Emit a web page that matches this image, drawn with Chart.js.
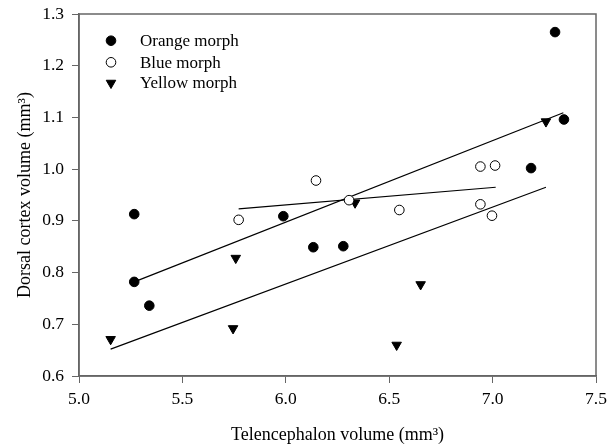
<!DOCTYPE html>
<html><head><meta charset="utf-8">
<script src="https://cdn.jsdelivr.net/npm/chart.js@4"></script>
<style>html,body{margin:0;padding:0;background:#fff}#wrap{width:612px;height:448px}</style>
</head><body><div id="wrap"><canvas id="c"></canvas></div>
<script>
const orangeX = [5.267, 5.267, 5.34, 5.988, 6.133, 6.278, 7.186, 7.302, 7.345];
const orangeY = [0.913, 0.782, 0.736, 0.909, 0.849, 0.851, 1.002, 1.265, 1.096];
const blueX = [5.772, 6.146, 6.306, 6.549, 6.941, 7.012, 6.941, 6.997];
const blueY = [0.902, 0.978, 0.940, 0.921, 1.005, 1.007, 0.932, 0.910];
const yellowX = [5.153, 5.758, 5.745, 6.335, 6.652, 6.536, 7.258];
const yellowY = [0.671, 0.828, 0.692, 0.935, 0.777, 0.660, 1.092];
const orangeFitX = [5.267, 7.342], orangeFitY = [0.782, 1.109];
const blueFitX = [5.772, 7.015], blueFitY = [0.923, 0.965];
const yellowFitX = [5.153, 7.258], yellowFitY = [0.652, 0.965];
const legendLabels = ['Orange morph', 'Blue morph', 'Yellow morph'];
const xTitle = 'Telencephalon volume (mm³)';
const yTitle = 'Dorsal cortex volume (mm³)';

const pts = (xs, ys) => xs.map((x, i) => ({x, y: ys[i]}));
const FONT = 'Liberation Serif, Times New Roman, serif';

const markerStyles = [
  {pointStyle: 'circle', backgroundColor: '#000', borderColor: '#000', radius: 4.8, borderWidth: 1},
  {pointStyle: 'circle', backgroundColor: '#fff', borderColor: '#000', radius: 4.8, borderWidth: 1},
  {pointStyle: 'triangle', backgroundColor: '#000', borderColor: '#000', radius: 5.5, borderWidth: 1, rotation: 180}
];

const scatter = (label, data, s) => ({
  label, data, showLine: false, pointStyle: s.pointStyle, pointRadius: s.radius,
  pointBackgroundColor: s.backgroundColor, pointBorderColor: s.borderColor,
  pointBorderWidth: s.borderWidth, pointRotation: s.rotation || 0, order: 0
});
const fit = (data) => ({
  data, showLine: true, pointRadius: 0, borderColor: '#000', borderWidth: 1.2, fill: false, order: 1
});

const framePlugin = {
  id: 'frame',
  afterDraw(chart) {
    const {ctx, chartArea: a} = chart;
    ctx.save();
    ctx.strokeStyle = '#666';
    ctx.lineWidth = 1.5;
    ctx.strokeRect(a.left, a.top, a.right - a.left, a.bottom - a.top);
    // legend
    ctx.font = '17px ' + FONT;
    ctx.fillStyle = '#000';
    ctx.textBaseline = 'middle';
    const ys = [40.7, 62.3, 83];
    legendLabels.forEach((t, i) => {
      const s = markerStyles[i];
      ctx.fillStyle = s.backgroundColor;
      ctx.strokeStyle = s.borderColor;
      ctx.lineWidth = s.borderWidth;
      Chart.helpers.drawPoint(ctx, {pointStyle: s.pointStyle, radius: s.radius, rotation: s.rotation || 0, borderWidth: s.borderWidth}, 111, ys[i]);
      ctx.fillStyle = '#000';
      ctx.fillText(t, 140, ys[i] + 1);
    });
    ctx.restore();
  }
};

new Chart(document.getElementById('c'), {
  type: 'scatter',
  data: {
    datasets: [
      scatter(legendLabels[0], pts(orangeX, orangeY), markerStyles[0]),
      scatter(legendLabels[1], pts(blueX, blueY), markerStyles[1]),
      scatter(legendLabels[2], pts(yellowX, yellowY), markerStyles[2]),
      fit(pts(orangeFitX, orangeFitY)),
      fit(pts(blueFitX, blueFitY)),
      fit(pts(yellowFitX, yellowFitY))
    ]
  },
  options: {
    responsive: true, maintainAspectRatio: false, animation: false,
    layout: {padding: {left: 0, right: 16, top: 14, bottom: 0}},
    plugins: {legend: {display: false}, tooltip: {enabled: false}},
    scales: {
      x: {
        type: 'linear', min: 5.0, max: 7.5,
        afterFit(s) { s.height = 72; s.paddingLeft = 0; s.paddingRight = 0; },
        ticks: {stepSize: 0.5, color: '#000', font: {family: FONT, size: 17.5}, padding: 6,
          callback: v => v.toFixed(1)},
        grid: {display: true, drawOnChartArea: false, drawTicks: true, tickLength: 7, color: '#666'},
        border: {display: true, color: '#666', width: 1.5},
        title: {display: true, text: xTitle, color: '#000', font: {family: FONT, size: 18}, padding: {top: 4, bottom: 2}}
      },
      y: {
        type: 'linear', min: 0.6, max: 1.3,
        afterFit(s) { s.width = 79; s.paddingTop = 0; s.paddingBottom = 0; },
        ticks: {stepSize: 0.1, color: '#000', font: {family: FONT, size: 17.5}, padding: 8,
          callback: v => v.toFixed(1)},
        grid: {display: true, drawOnChartArea: false, drawTicks: true, tickLength: 7, color: '#666'},
        border: {display: true, color: '#666', width: 1.5},
        title: {display: true, text: yTitle, color: '#000', font: {family: FONT, size: 18}, padding: {top: 14, bottom: 4}}
      }
    }
  },
  plugins: [framePlugin]
});
</script></body></html>
